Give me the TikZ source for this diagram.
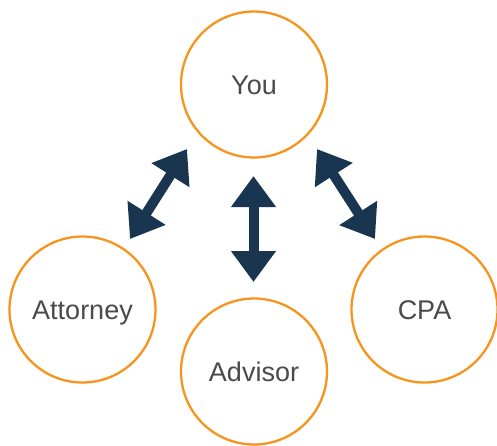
\documentclass[tikz,border=0pt]{standalone}
\usepackage{fontspec}
\setmainfont{Liberation Sans}
\usetikzlibrary{arrows.meta}
\definecolor{ringorange}{HTML}{F7941E}
\definecolor{arrownavy}{HTML}{1A3550}
\definecolor{labelgray}{HTML}{4A4A4A}
\begin{document}
\begin{tikzpicture}[x=1pt,y=-1pt,
  party/.style={circle,draw=ringorange,line width=2.3pt,fill=white,
    minimum size=146pt,inner sep=0pt,text=labelgray,
    font=\fontsize{27}{27}\selectfont,text height=19.3pt,text depth=0pt},
  link/.style={arrownavy,line width=10pt,
    {Triangle[length=31pt,width=43pt]}-{Triangle[length=31pt,width=43pt]}}]
\useasboundingbox (0,0) rectangle (497,445);
% the four parties
\node[party] (you)      at (254,84.5)  {You};
\node[party] (attorney) at (82.5,309.5) {Attorney};
\node[party] (advisor)  at (254,371.5) {Advisor};
\node[party] (cpa)      at (424.5,309.5) {CPA};
% ends of the two-way links
\coordinate (l1) at (130,239);
\coordinate (l2) at (187,149);
\coordinate (m1) at (253.5,176);
\coordinate (m2) at (253.5,282);
\coordinate (r1) at (317,149);
\coordinate (r2) at (375,239);
\draw[link] (l1) -- (l2);
\draw[link] (m1) -- (m2);
\draw[link] (r1) -- (r2);
\end{tikzpicture}
\end{document}
